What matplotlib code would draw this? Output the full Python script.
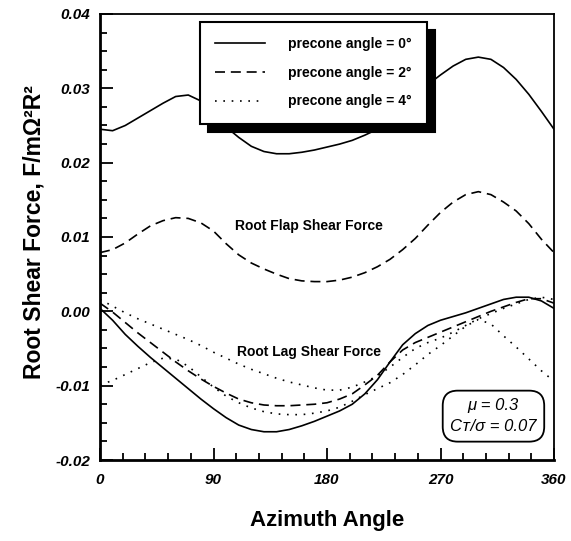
import matplotlib
matplotlib.use("Agg")
import matplotlib.pyplot as plt
from matplotlib.ticker import MultipleLocator, FormatStrFormatter

plt.rcParams['font.family'] = ['Liberation Sans', 'DejaVu Sans']

# ---- data ----
azimuth = [0, 10, 20, 30, 40, 50, 60, 70, 80, 90, 100, 110, 120, 130, 140, 150, 160, 170, 180,
           190, 200, 210, 220, 230, 240, 250, 260, 270, 280, 290, 300, 310, 320, 330, 340, 350, 360]

flap_0 = [0.0245, 0.0243, 0.0250, 0.0260, 0.0270, 0.0280, 0.0289, 0.0291, 0.0283, 0.0266,
          0.0248, 0.0234, 0.0222, 0.0215, 0.0212, 0.0212, 0.0214, 0.0217, 0.0221, 0.0225,
          0.0230, 0.0237, 0.0245, 0.0258, 0.0274, 0.0290, 0.0305, 0.0318, 0.0330, 0.0339,
          0.0342, 0.0339, 0.0328, 0.0312, 0.0292, 0.0269, 0.0245]

flap_2 = [0.0079, 0.0083, 0.0092, 0.0104, 0.0115, 0.0122, 0.0126, 0.0125, 0.0119, 0.0108,
          0.0091, 0.0076, 0.0065, 0.0057, 0.0050, 0.0044, 0.0041, 0.0040, 0.0040, 0.0042,
          0.0046, 0.0052, 0.0060, 0.0070, 0.0083, 0.0098, 0.0116, 0.0133, 0.0147, 0.0157,
          0.0161, 0.0157, 0.0147, 0.0135, 0.0118, 0.0097, 0.0079]

lag_0 = [0.0004, -0.0012, -0.0031, -0.0047, -0.0062, -0.0076, -0.0090, -0.0104, -0.0118, -0.0131,
         -0.0143, -0.0153, -0.0159, -0.0162, -0.0162, -0.0159, -0.0154, -0.0148, -0.0141, -0.0134,
         -0.0125, -0.0111, -0.0092, -0.0068, -0.0045, -0.0030, -0.0019, -0.0012, -0.0007, -0.0002,
         0.0004, 0.0010, 0.0016, 0.0019, 0.0019, 0.0014, 0.0004]

lag_2 = [0.0011, -0.0001, -0.0015, -0.0029, -0.0042, -0.0055, -0.0068, -0.0080, -0.0091, -0.0101,
         -0.0110, -0.0118, -0.0123, -0.0126, -0.0127, -0.0127, -0.0126, -0.0125, -0.0123, -0.0118,
         -0.0111, -0.0099, -0.0086, -0.0068, -0.0052, -0.0042, -0.0035, -0.0028, -0.0021, -0.0014,
         -0.0007, 0.0000, 0.0006, 0.0012, 0.0017, 0.0017, 0.0011]

lag_4a = [0.0016, 0.0007, -0.0002, -0.0010, -0.0017, -0.0024, -0.0031, -0.0038, -0.0046, -0.0055,
          -0.0063, -0.0071, -0.0078, -0.0084, -0.0090, -0.0095, -0.0099, -0.0103, -0.0106, -0.0106,
          -0.0102, -0.0095, -0.0087, -0.0075, -0.0062, -0.0050, -0.0042, -0.0036, -0.0028, -0.0019,
          -0.0010, -0.0003, 0.0004, 0.0010, 0.0016, 0.0019, 0.0016]

lag_4b = [-0.0099, -0.0093, -0.0085, -0.0077, -0.0069, -0.0063, -0.0064, -0.0074, -0.0088, -0.0102,
          -0.0114, -0.0123, -0.0130, -0.0135, -0.0138, -0.0139, -0.0139, -0.0137, -0.0134, -0.0129,
          -0.0121, -0.0112, -0.0104, -0.0096, -0.0085, -0.0072, -0.0058, -0.0046, -0.0033, -0.0020,
          -0.0011, -0.0017, -0.0033, -0.0048, -0.0064, -0.0080, -0.0094]

legend_labels = ["precone angle = 0°", "precone angle = 2°", "precone angle = 4°"]
x_ticks = [0, 90, 180, 270, 360]

# ---- figure ----
fig = plt.figure(figsize=(5.71, 5.41), dpi=100)
ax = fig.add_axes([100 / 571, 81 / 541, 454 / 571, 446 / 541])

lw = 1.2
solid = dict(color='black', lw=lw, linestyle='-')
dashed = dict(color='black', lw=lw, linestyle=(0, (6, 3.5)))
dotted = dict(color='black', lw=lw, linestyle=(0, (1, 4)))

h0, = ax.plot(azimuth, flap_0, **solid)
ax.plot(azimuth, flap_2, **dashed)
h2, = ax.plot(azimuth, lag_2, **dashed)
ax.plot(azimuth, lag_0, **solid)
h4, = ax.plot(azimuth, lag_4a, **dotted)
ax.plot(azimuth, lag_4b, **dotted)

ax.set_xlim(0, 360)
ax.set_ylim(-0.02, 0.04)
ax.set_xticks(x_ticks)
ax.xaxis.set_minor_locator(MultipleLocator(18))
ax.yaxis.set_major_locator(MultipleLocator(0.01))
ax.yaxis.set_minor_locator(MultipleLocator(0.0025))
ax.yaxis.set_major_formatter(FormatStrFormatter('%.2f'))

ax.tick_params(which='both', direction='in', top=False, right=False, width=1.3)
ax.tick_params(which='major', length=9)
ax.tick_params(which='minor', length=5)
ax.tick_params(axis='x', pad=9)
ax.tick_params(axis='y', pad=7)
for lab in ax.get_xticklabels() + ax.get_yticklabels():
    lab.set_fontstyle('italic')
    lab.set_fontweight('bold')
    lab.set_fontsize(11)

for s in ax.spines.values():
    s.set_linewidth(1.3)
ax.spines['left'].set_linewidth(2.0)
ax.spines['bottom'].set_linewidth(2.0)

ax.set_xlabel("Azimuth Angle", fontsize=16, fontweight='bold', labelpad=17)
ax.set_ylabel("Root Shear Force, F/mΩ²R²", fontsize=16.5, fontweight='bold')
ax.yaxis.set_label_coords(-0.12, 0.51)

ax.text(166, 0.0115, "Root Flap Shear Force", fontsize=10, fontweight='bold',
        ha='center', va='center')
ax.text(166, -0.0055, "Root Lag Shear Force", fontsize=10, fontweight='bold',
        ha='center', va='center')

ax.text(312, -0.0141, "μ = 0.3\nCᴛ/σ = 0.07", fontsize=12, fontstyle='italic',
        ha='center', va='center', linespacing=1.5,
        family=['Liberation Sans', 'DejaVu Sans'],
        bbox=dict(boxstyle='round,pad=0.45,rounding_size=0.9', fc='white', ec='black', lw=1.3))

leg = ax.legend([h0, h2, h4], legend_labels, loc='upper left',
                bbox_to_anchor=(0.220, 0.982), prop=dict(size=10, weight='bold'),
                frameon=True, fancybox=False, framealpha=1, edgecolor='black',
                handlelength=3.6, handletextpad=1.65, labelspacing=1.05, borderpad=1.1,
                borderaxespad=0,
                shadow={'ox': 6, 'oy': -6, 'facecolor': 'black', 'edgecolor': 'black', 'alpha': 1})
leg.get_frame().set_linewidth(1.5)

fig.savefig("out.png", dpi=100)
